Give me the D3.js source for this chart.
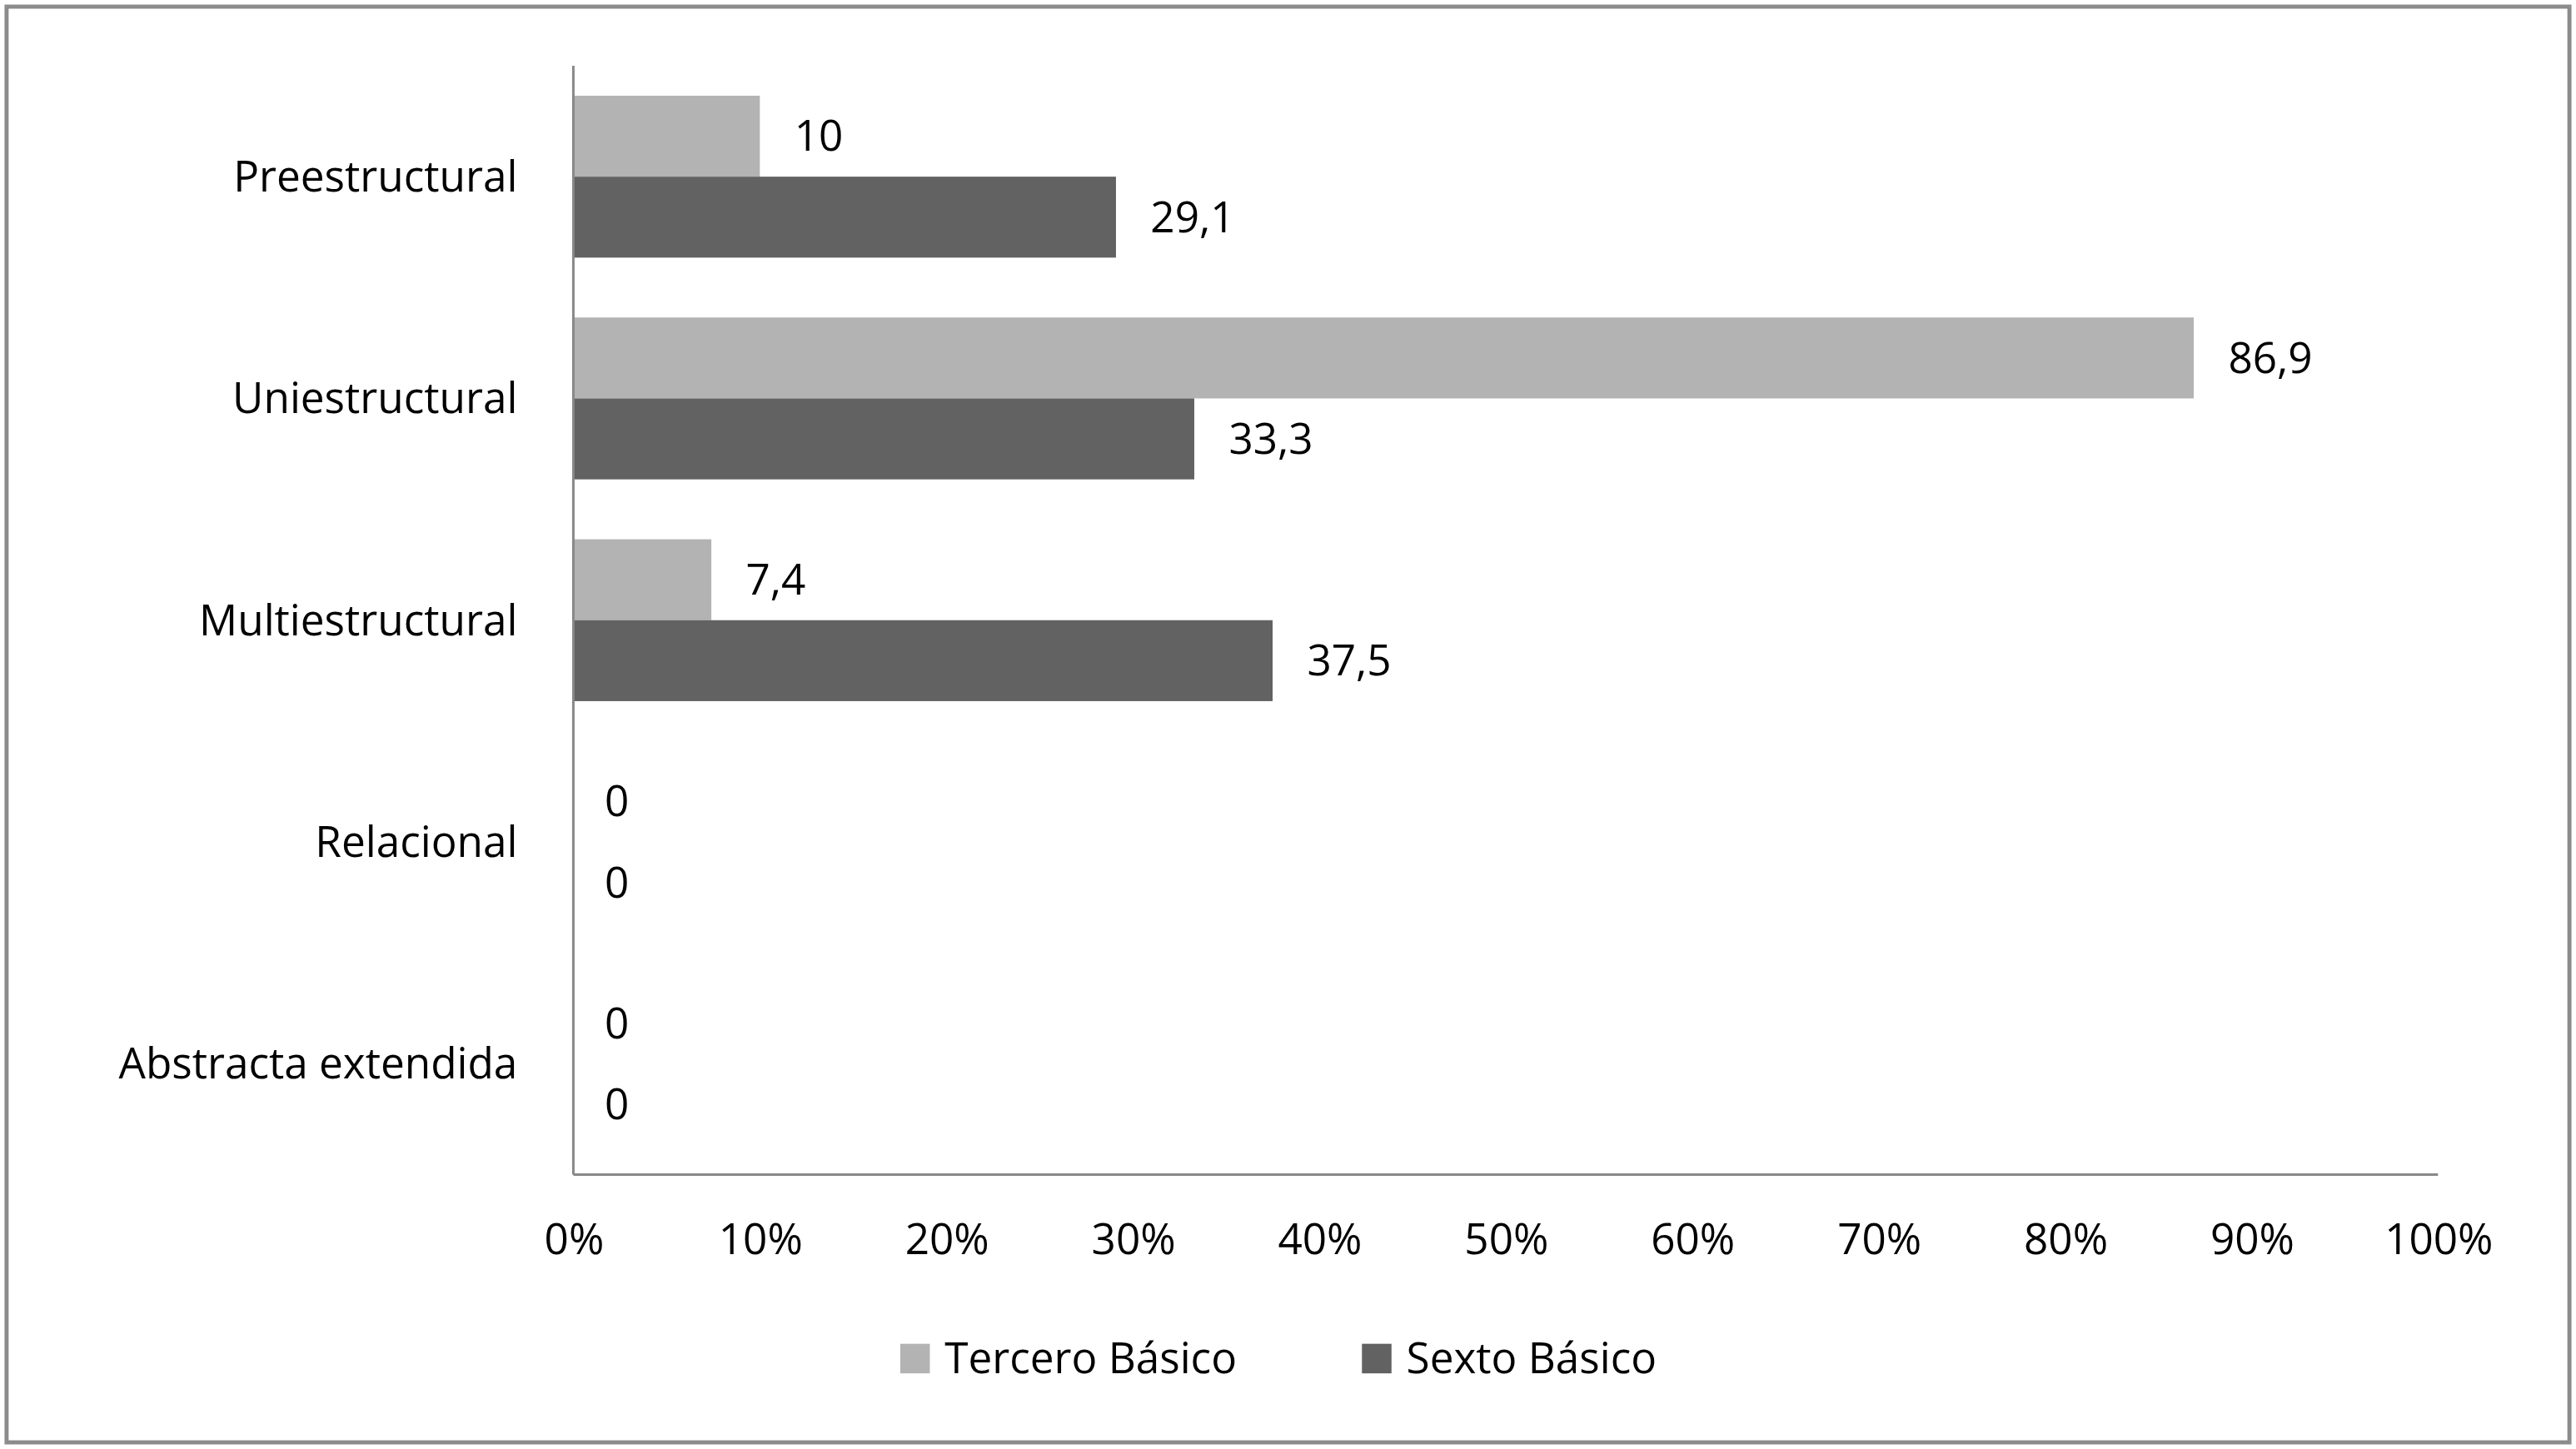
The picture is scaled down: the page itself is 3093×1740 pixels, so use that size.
<!DOCTYPE html>
<html><head><meta charset="utf-8">
<script src="https://cdn.jsdelivr.net/npm/d3@7"></script>
<style>html,body{margin:0;padding:0;background:#fff;}</style>
</head><body>
<script>
const categories = ["Preestructural","Uniestructural","Multiestructural","Relacional","Abstracta extendida"];
const seriesNames = ["Tercero Básico","Sexto Básico"];
const tercero = [10, 86.9, 7.4, 0, 0];
const sexto = [29.1, 33.3, 37.5, 0, 0];
const tickValues = [0,10,20,30,40,50,60,70,80,90,100];
const colors = ["#b3b3b3","#626262"];

const W=1568,H=882;
const svg=d3.select("body").append("svg").attr("width",3093).attr("height",1740)
  .attr("viewBox",`0 0 ${W} ${H}`).style("font-family","'Open Sans',sans-serif");
svg.append("rect").attr("x",4).attr("y",4).attr("width",W-8).attr("height",H-8)
  .attr("fill","#fff").attr("stroke","#8c8c8c").attr("stroke-width",2.5);

const x=d3.scaleLinear().domain([0,100]).range([349,1484]);
const y=d3.scaleBand().domain(categories).range([40,715]).paddingInner(0.27).paddingOuter(0.135);
const y1=d3.scaleBand().domain(seriesNames).range([0,y.bandwidth()]);
const fs=26;

const data=[tercero,sexto];
categories.forEach((c,i)=>{
  seriesNames.forEach((s,j)=>{
    const v=data[j][i];
    const yy=y(c)+y1(s);
    svg.append("rect").attr("x",x(0)).attr("y",yy).attr("width",x(v)-x(0)).attr("height",y1.bandwidth())
      .attr("fill",colors[j]);
    svg.append("text").attr("x",x(v)+(v===0?19:21)).attr("y",yy+y1.bandwidth()/2).attr("dy","0.35em")
      .attr("font-size",fs).attr("fill","#000").text(String(v).replace(".",","));
  });
  svg.append("text").attr("x",315).attr("y",y(c)+y.bandwidth()/2).attr("dy","0.35em")
    .attr("text-anchor","end").attr("font-size",fs).attr("fill","#000").text(c);
});

svg.append("line").attr("x1",349).attr("x2",349).attr("y1",40).attr("y2",715).attr("stroke","#888").attr("stroke-width",1.5);
svg.append("line").attr("x1",349).attr("x2",1484).attr("y1",715).attr("y2",715).attr("stroke","#888").attr("stroke-width",1.5);
const ax=svg.append("g").attr("transform","translate(0,715)")
  .call(d3.axisBottom(x).tickValues(tickValues).tickFormat(d=>d+"%").tickSize(0).tickPadding(30));
ax.select(".domain").remove();
ax.selectAll("text").attr("font-size",fs).attr("fill","#000").attr("font-family","'Open Sans',sans-serif");

const leg=[{x:548,t:seriesNames[0],c:colors[0]},{x:829,t:seriesNames[1],c:colors[1]}];
leg.forEach(l=>{
  svg.append("rect").attr("x",l.x).attr("y",818).attr("width",18).attr("height",18).attr("fill",l.c);
  svg.append("text").attr("x",l.x+27).attr("y",827).attr("dy","0.35em").attr("font-size",fs).attr("fill","#000").text(l.t);
});
</script>
</body></html>
